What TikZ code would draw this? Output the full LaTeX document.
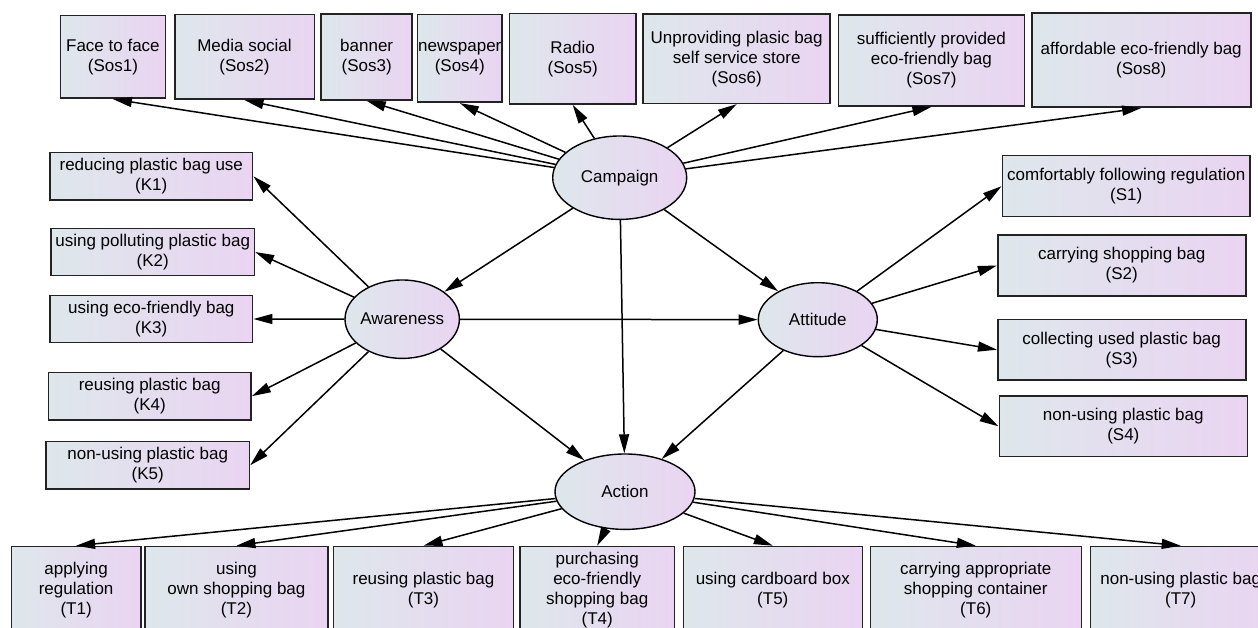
\documentclass[tikz,border=0pt]{standalone}
\usepackage{fontspec}
\setmainfont{Liberation Sans}
\usetikzlibrary{arrows.meta,shapes.geometric}
\definecolor{boxL}{RGB}{222,231,235}
\definecolor{boxR}{RGB}{234,212,242}
\definecolor{edgeC}{RGB}{35,35,35}
\begin{document}
\begin{tikzpicture}[x=1pt,y=-1pt,
  obs/.style={draw=edgeC, line width=1.6pt, left color=boxL, right color=boxR,
    inner sep=0pt, align=center, font=\fontsize{17}{20}\selectfont},
  lat/.style={ellipse, draw=black, line width=1.4pt, left color=boxL, right color=boxR,
    inner sep=0pt, font=\fontsize{17}{20}\selectfont},
  arr/.style={-{Triangle[length=19pt,width=10pt]}, line width=1.5pt, draw=black}]
\clip (0,0) rectangle (1258,628);
\fill[white] (0,0) rectangle (1258,628);

% latent variables
\node[lat, minimum width=134pt, minimum height=83.4pt] (camp) at (619.7,177.7) {\makebox[0pt]{Campaign}};
\node[lat, minimum width=114.4pt, minimum height=78.4pt] (aw) at (402.2,319.2) {\makebox[0pt]{Awareness}};
\node[lat, minimum width=119pt, minimum height=74pt] (att) at (817.8,319.7) {\makebox[0pt]{Attitude}};
\node[lat, minimum width=140pt, minimum height=75.4pt] (act) at (625,491.7) {\makebox[0pt]{Action}};

% top row
\node[obs, minimum width=105pt, minimum height=82.6pt] (sos1) at (112.9,57) {Face to face\\(Sos1)};
\node[obs, minimum width=139.6pt, minimum height=84.6pt] (sos2) at (244.5,57) {Media social\\(Sos2)};
\node[obs, minimum width=91pt, minimum height=86pt] (sos3) at (366.7,57) {banner\\(Sos3)};
\node[obs, minimum width=84.4pt, minimum height=87.6pt] (sos4) at (459.8,58.5) {newspaper\\(Sos4)};
\node[obs, minimum width=126.6pt, minimum height=90.7pt] (sos5) at (572.7,58.7) {Radio\\(Sos5)};
\node[obs, minimum width=187pt, minimum height=89.3pt] (sos6) at (736.7,58.7) {Unproviding plasic bag\\self service store\\(Sos6)};
\node[obs, minimum width=186.2pt, minimum height=91pt] (sos7) at (931.4,60.5) {sufficiently provided\\eco-friendly bag\\(Sos7)};
\node[obs, minimum width=219pt, minimum height=94pt] (sos8) at (1141.2,60.3) {affordable eco-friendly bag\\(Sos8)};

% left column
\node[obs, minimum width=202.7pt, minimum height=47.3pt] (k1) at (151.3,176.3) {reducing plastic bag use\\(K1)};
\node[obs, minimum width=203.3pt, minimum height=47.3pt] (k2) at (152.7,252) {using polluting plastic bag\\(K2)};
\node[obs, minimum width=202.7pt, minimum height=47.3pt] (k3) at (151.3,319) {using eco-friendly bag\\(K3)};
\node[obs, minimum width=202.7pt, minimum height=47.7pt] (k4) at (149.7,396.2) {reusing plastic bag\\(K4)};
\node[obs, minimum width=203.3pt, minimum height=47.3pt] (k5) at (147.7,465.3) {non-using plastic bag\\(K5)};

% right column
\node[obs, minimum width=247.7pt, minimum height=61pt] (s1) at (1126.2,186.2) {comfortably following regulation\\(S1)};
\node[obs, minimum width=248pt, minimum height=61pt] (s2) at (1121.7,265.5) {carrying shopping bag\\(S2)};
\node[obs, minimum width=248pt, minimum height=60.7pt] (s3) at (1121.7,349.7) {collecting used plastic bag\\(S3)};
\node[obs, minimum width=248pt, minimum height=60.7pt] (s4) at (1123.3,426.3) {non-using plastic bag\\(S4)};

% bottom row
\node[obs, minimum width=129.4pt, minimum height=87pt] (t1) at (76.1,590) {applying\\regulation\\(T1)};
\node[obs, minimum width=182.8pt, minimum height=87pt] (t2) at (236.4,590) {using\\own shopping bag\\(T2)};
\node[obs, minimum width=180pt, minimum height=87pt] (t3) at (423.5,590) {reusing plastic bag\\(T3)};
\node[obs, minimum width=154.3pt, minimum height=87pt] (t4) at (597.2,590) {purchasing\\eco-friendly\\shopping bag\\(T4)};
\node[obs, minimum width=179pt, minimum height=87pt] (t5) at (772.8,590) {using cardboard box\\(T5)};
\node[obs, minimum width=211pt, minimum height=87pt] (t6) at (975.8,590) {carrying appropriate\\shopping container\\(T6)};
\node[obs, minimum width=180.5pt, minimum height=87pt] (t7) at (1180.7,590) {non-using plastic bag\\(T7)};

% campaign indicators
\foreach \n in {sos1,sos2,sos3,sos4,sos5,sos6,sos7,sos8}
  \draw[arr] (camp) -- (\n.south);
% structural paths
\draw[arr] (camp) -- (aw);
\draw[arr] (camp) -- (att);
\draw[arr] (camp) -- (act);
\draw[arr] (aw) -- (att);
\draw[arr] (aw) -- (act);
\draw[arr] (att) -- (act);
% awareness indicators
\foreach \n in {k1,k2,k3,k4,k5}
  \draw[arr] (aw) -- (\n.east);
% attitude indicators
\foreach \n in {s1,s2,s3,s4}
  \draw[arr] (att) -- (\n.west);
% action indicators
\foreach \n in {t1,t2,t3,t4,t5,t6,t7}
  \draw[arr] (act) -- (\n.north);
\end{tikzpicture}
\end{document}
